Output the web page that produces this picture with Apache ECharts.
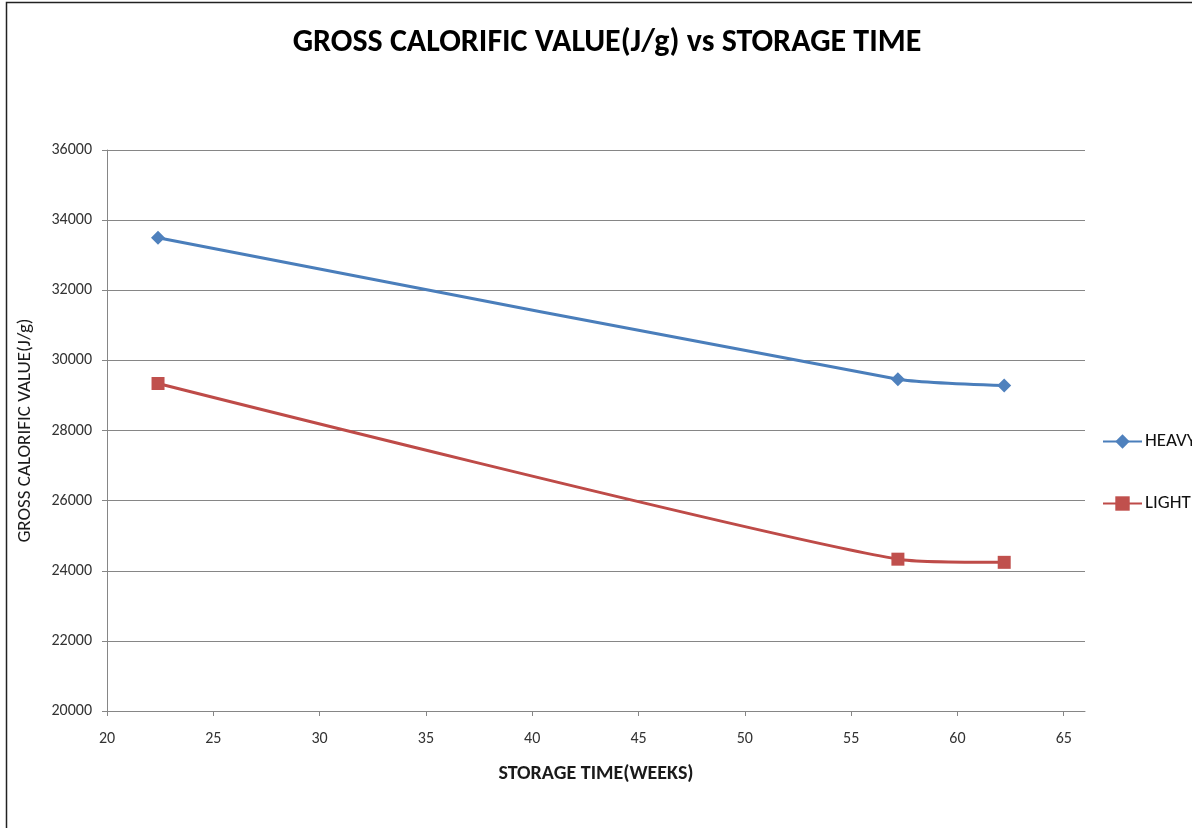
<!DOCTYPE html>
<html>
<head>
<meta charset="utf-8">
<title>Gross calorific value vs storage time</title>
<script src="https://cdn.jsdelivr.net/npm/echarts@6/dist/echarts.min.js"></script>
<style>
  html, body { margin: 0; padding: 0; background: #ffffff; }
  #chart { width: 1192px; height: 828px; }
</style>
</head>
<body>
<div id="chart"></div>
<script>
// Storage time in weeks for each sample
const storageWeeks = [22.4, 57.2, 62.2];
// Gross calorific value (J/g)
const heavyValues = [33500, 29460, 29280];
const lightValues = [29340, 24330, 24240];
const seriesNames = ['HEAVY', 'LIGHT'];
const xTicks = [20, 25, 30, 35, 40, 45, 50, 55, 60, 65];

const FONT = "Carlito, 'Liberation Sans Narrow', 'Open Sans', sans-serif";

const toPairs = (xs, ys) => xs.map((x, i) => [x, ys[i]]);

const chart = echarts.init(document.getElementById('chart'), null, { renderer: 'canvas' });

chart.setOption({
  backgroundColor: '#ffffff',
  animation: false,
  title: {
    text: 'GROSS CALORIFIC VALUE(J/g) vs STORAGE TIME',
    left: 602,
    textAlign: 'center',
    top: 22,
    textStyle: { fontFamily: FONT, fontSize: 32, fontWeight: 'bold', color: '#000000' }
  },
  graphic: [{
    type: 'rect',
    shape: { x: 6.5, y: 2.5, width: 1200, height: 840 },
    style: { fill: 'none', stroke: '#222222', lineWidth: 1.5 },
    silent: true
  }],
  legend: {
    orient: 'vertical',
    left: 1097,
    top: 427,
    itemGap: 43,
    itemWidth: 39,
    itemHeight: 18,
    data: seriesNames,
    textStyle: { fontFamily: FONT, fontSize: 19, color: '#111111', padding: [0, 0, 0, -2] }
  },
  grid: { left: 107, right: 107, top: 150, bottom: 117, containLabel: false },
  xAxis: {
    type: 'value',
    min: 20,
    max: 66,
    interval: 5,
    name: 'STORAGE TIME(WEEKS)',
    nameLocation: 'middle',
    nameGap: 53,
    nameTextStyle: { fontFamily: FONT, fontSize: 20, fontWeight: 'bold', color: '#1a1a1a' },
    axisLine: { show: true, lineStyle: { color: '#868686', width: 1 } },
    axisTick: { show: true, length: 5, inside: false, customValues: xTicks, lineStyle: { color: '#868686' } },
    axisLabel: { customValues: xTicks, margin: 20, fontFamily: FONT, fontSize: 16, color: '#333333' },
    splitLine: { show: false }
  },
  yAxis: {
    type: 'value',
    min: 20000,
    max: 36000,
    interval: 2000,
    name: 'GROSS CALORIFIC VALUE(J/g)',
    nameLocation: 'middle',
    nameRotate: 90,
    nameGap: 72,
    nameTextStyle: { fontFamily: FONT, fontSize: 19, color: '#1a1a1a' },
    axisLine: { show: true, lineStyle: { color: '#868686', width: 1 } },
    axisTick: { show: true, length: 5, lineStyle: { color: '#868686' } },
    axisLabel: { margin: 15, fontFamily: FONT, fontSize: 16, color: '#333333', formatter: (v) => String(v) },
    splitLine: { show: true, lineStyle: { color: '#868686', width: 1 } }
  },
  series: [
    {
      name: seriesNames[0],
      type: 'line',
      smooth: 0.18,
      data: toPairs(storageWeeks, heavyValues),
      symbol: 'diamond',
      symbolSize: 14,
      color: '#4a7ebb',
      lineStyle: { color: '#4a7ebb', width: 3 },
      itemStyle: { color: '#4f81bd', borderWidth: 0 }
    },
    {
      name: seriesNames[1],
      type: 'line',
      smooth: 0.18,
      data: toPairs(storageWeeks, lightValues),
      symbol: 'rect',
      symbolSize: 13,
      color: '#be4b48',
      lineStyle: { color: '#be4b48', width: 3 },
      itemStyle: { color: '#c0504d', borderWidth: 0 }
    }
  ]
});
</script>
</body>
</html>
